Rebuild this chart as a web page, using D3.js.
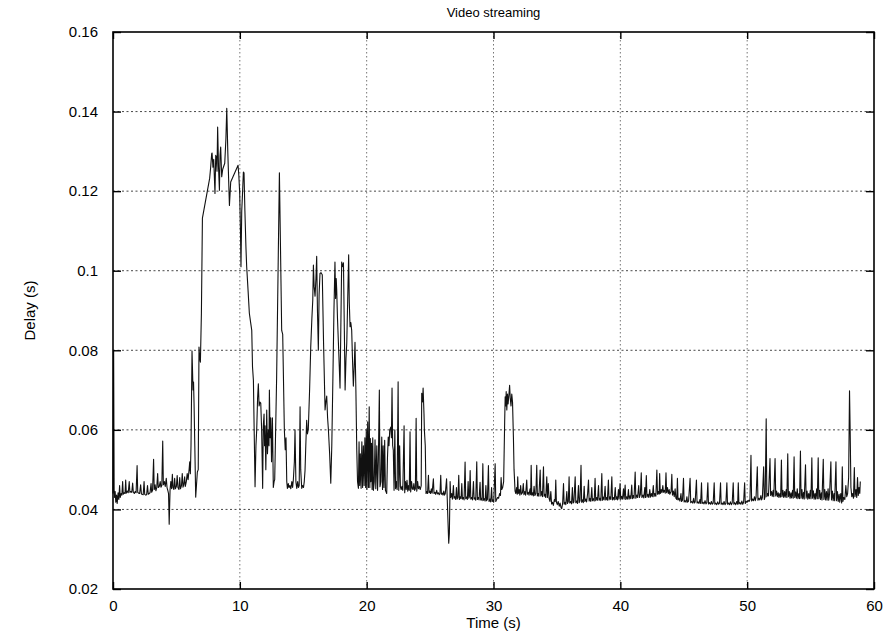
<!DOCTYPE html>
<html>
<head>
<meta charset="utf-8">
<script src="https://cdn.jsdelivr.net/npm/d3@7"></script>
<style>
  body { margin: 0; background: #fff; }
  text { font-family: "Liberation Sans", Arial, sans-serif; fill: #000; }
</style>
</head>
<body>
<script>
// delay samples, [time (s), delay (s)]
const seg0 = [[0.00,0.0440],[0.05,0.0800],[0.09,0.0450],[0.13,0.0430],[0.17,0.0445],[0.22,0.0418],[0.28,0.0436],[0.33,0.0415],[0.40,0.0442],[0.46,0.0425],[0.52,0.0460],[0.57,0.0430],[0.64,0.0440],[0.70,0.0436],[0.76,0.0470],[0.81,0.0438],[0.88,0.0442],[0.95,0.0440],[1.00,0.0474],[1.05,0.0441],[1.12,0.0446],[1.20,0.0442],[1.28,0.0470],[1.33,0.0443],[1.40,0.0445],[1.48,0.0443],[1.55,0.0466],[1.60,0.0444],[1.68,0.0440],[1.75,0.0445],[1.82,0.0442],[1.90,0.0510],[1.95,0.0443],[2.02,0.0441],[2.10,0.0440],[2.18,0.0462],[2.24,0.0439],[2.30,0.0438],[2.38,0.0437],[2.45,0.0470],[2.50,0.0438],[2.58,0.0436],[2.65,0.0437],[2.72,0.0460],[2.78,0.0438],[2.85,0.0440],[2.92,0.0442],[3.00,0.0465],[3.05,0.0443],[3.12,0.0448],[3.20,0.0526],[3.25,0.0450],[3.32,0.0462],[3.38,0.0447],[3.45,0.0455],[3.52,0.0490],[3.57,0.0455],[3.65,0.0458],[3.72,0.0470],[3.78,0.0456],[3.85,0.0460],[3.92,0.0572],[3.97,0.0462],[4.05,0.0470],[4.12,0.0458],[4.20,0.0478],[4.26,0.0455],[4.32,0.0448],[4.38,0.0440],[4.43,0.0363],[4.50,0.0450],[4.56,0.0470],[4.62,0.0452],[4.68,0.0488],[4.73,0.0455],[4.80,0.0450],[4.86,0.0478],[4.92,0.0452],[5.00,0.0458],[5.06,0.0485],[5.12,0.0455],[5.20,0.0450],[5.26,0.0480],[5.32,0.0452],[5.40,0.0460],[5.46,0.0490],[5.52,0.0456],[5.58,0.0462],[5.65,0.0482],[5.70,0.0458],[5.78,0.0470],[5.85,0.0490],[5.92,0.0475],[6.00,0.0500],[6.05,0.0520],[6.10,0.0490]]

const seg1 = [[6.15,0.0560],[6.23,0.0798],[6.31,0.0700],[6.35,0.0720],[6.39,0.0667],[6.45,0.0560],[6.52,0.0431],[6.58,0.0460],[6.65,0.0494],[6.72,0.0500],[6.78,0.0808],[6.84,0.0780],[6.89,0.0770],[6.97,0.0893],[7.05,0.1132],[7.62,0.1232],[7.70,0.1260],[7.78,0.1294],[7.81,0.1296],[7.88,0.1260],[7.94,0.1280],[8.04,0.1194],[8.10,0.1290],[8.15,0.1286],[8.20,0.1250],[8.25,0.1361],[8.32,0.1260],[8.39,0.1202],[8.44,0.1290],[8.49,0.1311],[8.57,0.1236],[8.65,0.1255],[8.81,0.1270],[8.90,0.1330],[8.97,0.1408],[9.05,0.1300],[9.18,0.1164],[9.28,0.1223],[9.86,0.1265],[9.92,0.1240],[9.99,0.1194],[10.05,0.1100],[10.09,0.1010],[10.15,0.1150],[10.22,0.1200],[10.28,0.1248],[10.33,0.1246],[10.40,0.1150],[10.48,0.1060],[10.54,0.1010],[10.65,0.0950],[10.75,0.0893],[10.85,0.0870],[10.94,0.0850],[11.00,0.0758],[11.07,0.0725],[11.13,0.0600]]

const seg2 = [[11.20,0.0457],[11.27,0.0560],[11.33,0.0600],[11.40,0.0680],[11.46,0.0716],[11.52,0.0660],[11.58,0.0670],[11.65,0.0667],[11.72,0.0600],[11.80,0.0453],[11.85,0.0610],[11.91,0.0640],[11.95,0.0560],[11.99,0.0610],[12.05,0.0500],[12.12,0.0650],[12.18,0.0540],[12.25,0.0600],[12.30,0.0560],[12.33,0.0700],[12.39,0.0580],[12.44,0.0630],[12.50,0.0520],[12.57,0.0630],[12.64,0.0455],[12.70,0.0470],[12.75,0.0475],[12.90,0.0730],[13.12,0.1246],[13.30,0.0850],[13.38,0.0840],[13.51,0.0600],[13.58,0.0550],[13.64,0.0580],[13.70,0.0470],[13.75,0.0453],[13.82,0.0465],[13.88,0.0455],[13.95,0.0460],[14.02,0.0452],[14.10,0.0470],[14.16,0.0455],[14.22,0.0475],[14.30,0.0520],[14.35,0.0600],[14.42,0.0470],[14.49,0.0453],[14.56,0.0470],[14.62,0.0455],[14.68,0.0460],[14.75,0.0658],[14.80,0.0500],[14.88,0.0453],[14.95,0.0460],[15.02,0.0455],[15.08,0.0470],[15.14,0.0498],[15.20,0.0560],[15.27,0.0624],[15.33,0.0590],[15.40,0.0602],[15.50,0.0700],[15.59,0.0808],[15.68,0.0880],[15.75,0.0926],[15.80,0.1014],[15.86,0.0960],[15.93,0.0936],[16.00,0.0980],[16.06,0.1036],[16.12,0.0900],[16.19,0.0800],[16.25,0.0940],[16.32,0.0993],[16.40,0.0995],[16.50,0.0990],[16.60,0.0820],[16.72,0.0650],[16.78,0.0670],[16.85,0.0685],[16.92,0.0630],[16.98,0.0602],[17.08,0.0540],[17.17,0.0466],[17.25,0.0560],[17.33,0.0716],[17.42,0.0900],[17.50,0.1022],[17.55,0.0930],[17.60,0.0980],[17.64,0.0950],[17.70,0.0880],[17.77,0.0820],[17.84,0.0760],[17.90,0.0705],[17.96,0.0850],[18.03,0.1022],[18.10,0.1010],[18.17,0.1020],[18.24,0.0850],[18.30,0.0700],[18.37,0.0780],[18.43,0.0817],[18.52,0.0950],[18.58,0.1040],[18.63,0.0920],[18.69,0.0859],[18.75,0.0870],[18.82,0.0850],[18.88,0.0780],[18.95,0.0710],[19.02,0.0760],[19.08,0.0820],[19.15,0.0700],[19.22,0.0549],[19.28,0.0470],[19.35,0.0453],[19.40,0.0570],[19.45,0.0460],[19.50,0.0540],[19.56,0.0453],[19.62,0.0570],[19.68,0.0455],[19.74,0.0560],[19.80,0.0460],[19.86,0.0580],[19.92,0.0455],[19.97,0.0600],[20.02,0.0450],[20.08,0.0620],[20.14,0.0455],[20.20,0.0658],[20.25,0.0455],[20.29,0.0578]]

const seg3 = [[20.33,0.0470],[20.38,0.0566],[20.43,0.0450],[20.48,0.0580],[20.53,0.0448],[20.60,0.0470],[20.66,0.0575],[20.72,0.0452],[20.80,0.0560],[20.86,0.0448],[20.92,0.0520],[21.00,0.0700],[21.05,0.0457],[21.12,0.0470],[21.19,0.0582],[21.25,0.0450],[21.30,0.0560],[21.36,0.0455],[21.42,0.0574],[21.48,0.0448],[21.58,0.0440],[21.64,0.0530],[21.70,0.0582],[21.76,0.0560],[21.82,0.0600],[21.90,0.0607],[21.95,0.0580],[22.00,0.0705],[22.05,0.0560],[22.10,0.0549],[22.16,0.0448],[22.22,0.0600],[22.28,0.0452],[22.34,0.0470],[22.40,0.0450],[22.48,0.0721],[22.53,0.0448],[22.60,0.0560],[22.66,0.0457],[22.72,0.0450],[22.78,0.0458],[22.85,0.0448],[22.95,0.0610],[23.00,0.0442],[23.06,0.0470],[23.12,0.0450],[23.18,0.0473],[23.24,0.0446],[23.30,0.0460],[23.36,0.0448],[23.42,0.0595],[23.47,0.0444],[23.54,0.0470],[23.60,0.0452],[23.66,0.0450],[23.72,0.0465],[23.78,0.0448],[23.84,0.0452],[23.90,0.0629],[23.95,0.0446],[24.02,0.0470],[24.08,0.0452],[24.15,0.0458],[24.22,0.0450],[24.30,0.0460],[24.34,0.0692],[24.40,0.0670],[24.45,0.0705],[24.52,0.0640],[24.55,0.0600],[24.62,0.0560],[24.68,0.0440]]

const seg4 = [[24.75,0.0445],[24.80,0.0440],[24.87,0.0486],[24.92,0.0442],[24.98,0.0446],[25.04,0.0440],[25.10,0.0452],[25.16,0.0441],[25.26,0.0477],[25.31,0.0440],[25.38,0.0443],[25.44,0.0438],[25.52,0.0448],[25.58,0.0439],[25.65,0.0442],[25.72,0.0437],[25.78,0.0440],[25.84,0.0486],[25.89,0.0438],[25.96,0.0441],[26.02,0.0436],[26.08,0.0446],[26.14,0.0436],[26.20,0.0440],[26.30,0.0477],[26.35,0.0430],[26.40,0.0380],[26.47,0.0315],[26.52,0.0340],[26.58,0.0470],[26.63,0.0430],[26.70,0.0440],[26.76,0.0426],[26.84,0.0460],[26.89,0.0428],[26.95,0.0432],[27.02,0.0425],[27.08,0.0455],[27.13,0.0426],[27.20,0.0430],[27.26,0.0486],[27.31,0.0425],[27.38,0.0432],[27.44,0.0427],[27.50,0.0465],[27.55,0.0426],[27.62,0.0430],[27.68,0.0424],[27.76,0.0519],[27.81,0.0427],[27.88,0.0431],[27.94,0.0425],[28.00,0.0470],[28.05,0.0428],[28.10,0.0432],[28.16,0.0498],[28.21,0.0426],[28.28,0.0430],[28.34,0.0424],[28.42,0.0470],[28.47,0.0426],[28.54,0.0429],[28.60,0.0423],[28.68,0.0520],[28.73,0.0425],[28.80,0.0430],[28.86,0.0424],[28.94,0.0468],[28.99,0.0424],[29.05,0.0428],[29.10,0.0422],[29.16,0.0515],[29.21,0.0423],[29.28,0.0427],[29.34,0.0421],[29.40,0.0460],[29.45,0.0422],[29.52,0.0425],[29.60,0.0510],[29.65,0.0420],[29.72,0.0426],[29.78,0.0419],[29.85,0.0455],[29.90,0.0420],[29.96,0.0424],[30.02,0.0418],[30.13,0.0515],[30.18,0.0420],[30.25,0.0425],[30.32,0.0430],[30.40,0.0428],[30.48,0.0440],[30.55,0.0435],[30.60,0.0480],[30.65,0.0450],[30.72,0.0455]]

const seg5 = [[30.80,0.0470],[30.88,0.0620],[30.92,0.0683],[30.97,0.0660],[31.00,0.0696],[31.05,0.0650],[31.10,0.0690],[31.15,0.0665],[31.22,0.0690],[31.27,0.0712],[31.32,0.0680],[31.38,0.0660],[31.44,0.0690],[31.50,0.0670],[31.57,0.0582],[31.62,0.0500],[31.70,0.0446],[31.76,0.0440],[31.82,0.0455],[31.87,0.0438],[31.91,0.0482],[31.96,0.0440],[32.02,0.0450],[32.08,0.0436],[32.14,0.0460],[32.20,0.0438],[32.28,0.0442],[32.35,0.0465],[32.40,0.0437],[32.47,0.0445],[32.53,0.0436],[32.62,0.0474],[32.67,0.0438],[32.74,0.0443],[32.80,0.0436],[32.88,0.0452],[32.93,0.0437],[32.97,0.0511],[33.02,0.0436],[33.08,0.0442],[33.14,0.0434],[33.20,0.0458],[33.26,0.0435],[33.34,0.0440],[33.41,0.0511],[33.46,0.0434],[33.52,0.0440],[33.58,0.0433],[33.68,0.0499],[33.73,0.0434],[33.80,0.0445],[33.86,0.0432],[33.94,0.0507],[33.99,0.0433],[34.05,0.0438],[34.12,0.0430],[34.20,0.0482],[34.25,0.0430],[34.32,0.0465],[34.38,0.0428],[34.45,0.0420],[34.52,0.0445],[34.58,0.0414],[34.65,0.0418],[34.72,0.0410],[34.80,0.0425],[34.86,0.0420],[34.91,0.0474],[34.96,0.0418],[35.03,0.0412],[35.10,0.0420],[35.18,0.0408],[35.25,0.0416],[35.32,0.0405],[35.38,0.0402],[35.45,0.0415],[35.52,0.0465],[35.57,0.0413],[35.64,0.0418],[35.70,0.0412],[35.78,0.0445],[35.83,0.0415],[35.90,0.0420],[35.96,0.0482],[36.01,0.0416],[36.08,0.0420],[36.15,0.0414],[36.22,0.0455],[36.27,0.0416],[36.34,0.0419],[36.44,0.0482],[36.49,0.0417],[36.56,0.0421],[36.62,0.0415],[36.70,0.0460],[36.75,0.0417],[36.82,0.0422],[36.90,0.0511],[36.95,0.0418],[37.02,0.0424],[37.08,0.0417],[37.15,0.0458],[37.20,0.0420],[37.28,0.0426],[37.34,0.0419],[37.42,0.0440],[37.49,0.0474],[37.54,0.0421],[37.60,0.0428],[37.67,0.0420],[37.75,0.0455],[37.80,0.0422],[37.87,0.0427],[37.94,0.0421],[38.01,0.0478],[38.06,0.0422],[38.13,0.0430],[38.20,0.0423],[38.28,0.0460],[38.33,0.0423],[38.40,0.0428],[38.46,0.0422],[38.54,0.0490],[38.59,0.0423],[38.66,0.0431],[38.72,0.0424],[38.80,0.0458],[38.85,0.0424],[38.92,0.0430],[38.98,0.0423],[39.06,0.0474],[39.11,0.0424],[39.18,0.0432],[39.25,0.0425],[39.33,0.0482],[39.38,0.0424],[39.45,0.0430],[39.52,0.0424],[39.60,0.0455],[39.65,0.0425],[39.72,0.0432],[39.78,0.0424],[39.85,0.0450],[39.90,0.0426],[39.98,0.0465],[40.03,0.0425],[40.10,0.0433],[40.17,0.0426],[40.25,0.0452],[40.30,0.0426],[40.38,0.0461],[40.43,0.0425],[40.50,0.0432],[40.57,0.0426],[40.64,0.0450],[40.69,0.0426],[40.76,0.0434],[40.82,0.0427],[40.90,0.0461],[40.95,0.0427],[41.02,0.0435],[41.08,0.0428]]

const seg6 = [[41.17,0.0494],[41.22,0.0428],[41.30,0.0436],[41.36,0.0430],[41.45,0.0460],[41.50,0.0430],[41.58,0.0438],[41.65,0.0492],[41.70,0.0430],[41.78,0.0436],[41.85,0.0429],[41.93,0.0455],[41.98,0.0430],[42.05,0.0485],[42.10,0.0431],[42.18,0.0438],[42.25,0.0430],[42.32,0.0450],[42.38,0.0431],[42.45,0.0440],[42.52,0.0432],[42.60,0.0460],[42.65,0.0432],[42.72,0.0440],[42.80,0.0433],[42.88,0.0499],[42.93,0.0438],[43.00,0.0445],[43.06,0.0438],[43.10,0.0490],[43.15,0.0440],[43.22,0.0450],[43.28,0.0442],[43.35,0.0460],[43.40,0.0443],[43.47,0.0448],[43.54,0.0441],[43.60,0.0492],[43.65,0.0442],[43.72,0.0455],[43.78,0.0440],[43.85,0.0450],[43.90,0.0438],[44.00,0.0445],[44.06,0.0488],[44.11,0.0436],[44.18,0.0446],[44.25,0.0432],[44.32,0.0452],[44.38,0.0428],[44.45,0.0425],[44.50,0.0478],[44.55,0.0424],[44.62,0.0428],[44.70,0.0421],[44.78,0.0440],[44.83,0.0420],[44.90,0.0423],[44.98,0.0478],[45.03,0.0419],[45.10,0.0422],[45.18,0.0418],[45.25,0.0432],[45.30,0.0418],[45.38,0.0421],[45.50,0.0478],[45.55,0.0417],[45.62,0.0420],[45.70,0.0416],[45.78,0.0428],[45.83,0.0416],[45.90,0.0419],[46.00,0.0474],[46.05,0.0416],[46.12,0.0419],[46.20,0.0415],[46.28,0.0425],[46.33,0.0415],[46.40,0.0467],[46.45,0.0415],[46.52,0.0418],[46.60,0.0414],[46.68,0.0422],[46.75,0.0414],[46.82,0.0417],[46.90,0.0467],[46.95,0.0414],[47.02,0.0417],[47.10,0.0413],[47.18,0.0420],[47.25,0.0413],[47.32,0.0416],[47.40,0.0467],[47.45,0.0413],[47.52,0.0416],[47.60,0.0412],[47.68,0.0419],[47.75,0.0413],[47.82,0.0416],[47.90,0.0467],[47.95,0.0413],[48.02,0.0416],[48.10,0.0412],[48.18,0.0420],[48.25,0.0412],[48.32,0.0415],[48.40,0.0467],[48.45,0.0413],[48.52,0.0416],[48.60,0.0412],[48.68,0.0419],[48.75,0.0412],[48.82,0.0416],[48.90,0.0467],[48.95,0.0413],[49.02,0.0417],[49.10,0.0412],[49.18,0.0420],[49.25,0.0413],[49.30,0.0467],[49.35,0.0414],[49.42,0.0417],[49.50,0.0413],[49.58,0.0421],[49.65,0.0413],[49.72,0.0418],[49.80,0.0467],[49.85,0.0415],[49.92,0.0420],[50.00,0.0418],[50.08,0.0423],[50.15,0.0420],[50.22,0.0425],[50.30,0.0536],[50.35,0.0421],[50.42,0.0426],[50.50,0.0422],[50.58,0.0432],[50.64,0.0422],[50.70,0.0430],[50.80,0.0507],[50.85,0.0423],[50.92,0.0428],[51.00,0.0424],[51.08,0.0435],[51.14,0.0424],[51.20,0.0430],[51.30,0.0507],[51.35,0.0425],[51.42,0.0432]]

const seg7 = [[51.50,0.0628],[51.55,0.0432],[51.62,0.0440],[51.68,0.0434],[51.80,0.0528],[51.85,0.0435],[51.92,0.0445],[51.98,0.0433],[52.05,0.0448],[52.10,0.0432],[52.20,0.0528],[52.25,0.0434],[52.32,0.0446],[52.38,0.0432],[52.45,0.0442],[52.50,0.0430],[52.58,0.0440],[52.64,0.0431],[52.70,0.0524],[52.75,0.0432],[52.82,0.0448],[52.88,0.0430],[52.95,0.0445],[53.00,0.0431],[53.08,0.0450],[53.13,0.0430],[53.20,0.0540],[53.25,0.0432],[53.32,0.0445],[53.38,0.0428],[53.45,0.0442],[53.50,0.0429],[53.58,0.0448],[53.63,0.0428],[53.70,0.0532],[53.75,0.0430],[53.82,0.0444],[53.88,0.0428],[53.95,0.0452],[54.00,0.0427],[54.08,0.0440],[54.13,0.0427],[54.20,0.0547],[54.25,0.0428],[54.32,0.0450],[54.38,0.0427],[54.45,0.0443],[54.50,0.0426],[54.60,0.0512],[54.65,0.0428],[54.72,0.0446],[54.78,0.0426],[54.85,0.0440],[54.90,0.0427],[54.98,0.0448],[55.03,0.0427],[55.10,0.0530],[55.15,0.0428],[55.22,0.0447],[55.28,0.0426],[55.35,0.0440],[55.40,0.0426],[55.48,0.0452],[55.53,0.0427],[55.60,0.0530],[55.65,0.0427],[55.72,0.0448],[55.78,0.0425],[55.85,0.0442],[55.90,0.0424],[56.00,0.0526],[56.05,0.0425],[56.12,0.0450],[56.18,0.0424],[56.25,0.0445],[56.30,0.0423],[56.38,0.0452],[56.43,0.0423],[56.50,0.0440],[56.60,0.0520],[56.65,0.0424],[56.72,0.0446],[56.78,0.0422],[56.85,0.0440],[56.90,0.0422],[57.00,0.0520],[57.05,0.0422],[57.12,0.0445],[57.18,0.0420],[57.25,0.0438],[57.30,0.0418],[57.38,0.0440],[57.45,0.0416],[57.50,0.0507],[57.55,0.0420],[57.62,0.0430],[57.70,0.0425],[57.78,0.0460],[57.85,0.0432],[57.92,0.0440],[58.00,0.0480],[58.07,0.0698],[58.12,0.0600],[58.18,0.0455],[58.25,0.0432],[58.32,0.0440],[58.38,0.0428],[58.45,0.0505],[58.50,0.0432],[58.58,0.0450],[58.64,0.0430],[58.70,0.0480],[58.76,0.0435],[58.82,0.0455],[58.88,0.0440],[58.92,0.0470]]

const xTicks = [0, 10, 20, 30, 40, 50, 60]
const yTicks = [0.02, 0.04, 0.06, 0.08, 0.1, 0.12, 0.14, 0.16]
const yTickLabels = ['0.02', '0.04', '0.06', '0.08', '0.1', '0.12', '0.14', '0.16']

const data = [].concat(seg0, seg1, seg2, seg3, seg4, seg5, seg6, seg7)

const width = 893, height = 633
const margin = {top: 32, right: 19, bottom: 44, left: 113}
const w = width - margin.left - margin.right
const h = height - margin.top - margin.bottom

const svg = d3.select('body').append('svg')
  .attr('width', width)
  .attr('height', height)

const chart = svg.append('g')
  .attr('transform', `translate(${margin.left},${margin.top})`)

const x = d3.scaleLinear().domain([0, 60]).range([0, w])
const y = d3.scaleLinear().domain([0.02, 0.16]).range([h, 0])

// grid
chart.append('g').selectAll('line')
  .data(yTicks.slice(1, -1))
  .join('line')
  .attr('x1', 0).attr('x2', w)
  .attr('y1', d => y(d)).attr('y2', d => y(d))
  .attr('stroke', '#333')
  .attr('stroke-width', 0.9)
  .attr('stroke-dasharray', '2,2.5')

chart.append('g').selectAll('line')
  .data(xTicks.slice(1, -1))
  .join('line')
  .attr('x1', d => x(d)).attr('x2', d => x(d))
  .attr('y1', 0).attr('y2', h)
  .attr('stroke', '#666')
  .attr('stroke-width', 0.9)
  .attr('stroke-dasharray', '1.5,2.5')

// the trace
const line = d3.line()
  .x(d => x(d[0]))
  .y(d => y(d[1]))

chart.append('path')
  .datum(data)
  .attr('fill', 'none')
  .attr('stroke', '#111')
  .attr('stroke-width', 1.1)
  .attr('stroke-linejoin', 'round')
  .attr('d', line)

// axes, ticks pointing inward
const xAxis = d3.axisBottom(x).tickValues(xTicks).tickSize(-7).tickPadding(11)
const yAxis = d3.axisLeft(y).tickValues(yTicks)
  .tickFormat((d, i) => yTickLabels[i]).tickSize(-8).tickPadding(15)

const gx = chart.append('g')
  .attr('transform', `translate(0,${h})`)
  .call(xAxis)
const gy = chart.append('g').call(yAxis)
const gt = chart.append('g')
  .call(d3.axisTop(x).tickValues(xTicks).tickSize(-7).tickFormat(''))
const gr = chart.append('g')
  .attr('transform', `translate(${w},0)`)
  .call(d3.axisRight(y).tickValues(yTicks).tickSize(-8).tickFormat(''))

;[gx, gy, gt, gr].forEach(g => {
  g.select('.domain').remove()
  g.selectAll('.tick line').attr('stroke', '#000').attr('stroke-width', 1.4)
  g.selectAll('.tick text')
    .style('font-family', '"Liberation Sans", Arial, sans-serif')
    .style('font-size', '15px')
    .attr('fill', '#000')
})

chart.append('rect')
  .attr('width', w)
  .attr('height', h)
  .attr('fill', 'none')
  .attr('stroke', '#000')
  .attr('stroke-width', 1.6)

svg.append('text')
  .attr('x', margin.left + w / 2)
  .attr('y', 17)
  .attr('text-anchor', 'middle')
  .style('font-size', '13px')
  .text('Video streaming')

svg.append('text')
  .attr('x', margin.left + w / 2)
  .attr('y', 628)
  .attr('text-anchor', 'middle')
  .style('font-size', '15px')
  .text('Time (s)')

svg.append('text')
  .attr('transform', `translate(35,${margin.top + h / 2}) rotate(-90)`)
  .attr('text-anchor', 'middle')
  .style('font-size', '15px')
  .text('Delay (s)')
</script>
</body>
</html>
